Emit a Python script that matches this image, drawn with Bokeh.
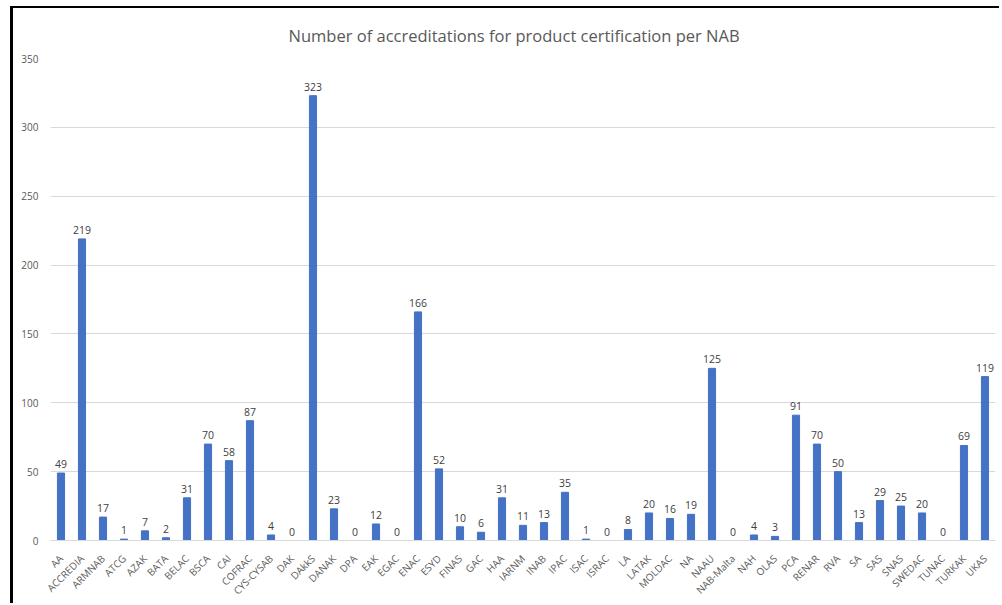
from bokeh.plotting import figure
from bokeh.models import ColumnDataSource, LabelSet, FactorRange, Range1d, FixedTicker
from bokeh.embed import file_html
from bokeh.resources import INLINE
from bokeh.core.properties import value
import math

nabs = ["AA", "ACCREDIA", "ARMNAB", "ATCG", "AZAK", "BATA", "BELAC", "BSCA", "CAI", "COFRAC",
        "CYS-CYSAB", "DAK", "DAkkS", "DANAK", "DPA", "EAK", "EGAC", "ENAC", "ESYD", "FINAS",
        "GAC", "HAA", "IARNM", "INAB", "IPAC", "ISAC", "ISRAC", "LA", "LATAK", "MOLDAC",
        "NA", "NAAU", "NAB-Malta", "NAH", "OLAS", "PCA", "RENAR", "RVA", "SA", "SAS",
        "SNAS", "SWEDAC", "TUNAC", "TURKAK", "UKAS"]
counts = [49, 219, 17, 1, 7, 2, 31, 70, 58, 87,
          4, 0, 323, 23, 0, 12, 0, 166, 52, 10,
          6, 31, 11, 13, 35, 1, 0, 8, 20, 16,
          19, 125, 0, 4, 3, 91, 70, 50, 13, 29,
          25, 20, 0, 69, 119]
y_ticks = [0, 50, 100, 150, 200, 250, 300, 350]

FONT = "Open Sans"
GREY = "#595959"

src = ColumnDataSource(dict(nab=nabs, n=counts, lbl=[str(c) for c in counts]))

p = figure(x_range=FactorRange(*nabs, range_padding=0), y_range=Range1d(0, 350),
           width=989, height=597, output_backend="svg", toolbar_location=None,
           title="Number of accreditations for product certification per NAB",
           min_border_left=37, min_border_right=7, min_border_top=50, min_border_bottom=62)

p.vbar(x="nab", top="n", width=0.34, color="#4472C4", source=src)

labels = LabelSet(x="nab", y="n", text="lbl", source=src, text_align="center",
                  text_baseline="bottom", y_offset=5, text_font_size="10.5px",
                  text_color="#404040", text_font=value(FONT))
p.add_layout(labels)

p.title.text_font = FONT
p.title.text_font_size = "16.5px"
p.title.text_font_style = "normal"
p.title.text_color = GREY
p.title.align = "left"
p.title.offset = 238
p.title.standoff = 20
p.title.vertical_align = "top"

p.yaxis.ticker = FixedTicker(ticks=y_ticks)
p.yaxis.axis_line_color = None
p.yaxis.major_tick_line_color = None
p.yaxis.minor_tick_line_color = None
p.yaxis.major_label_text_font = FONT
p.yaxis.major_label_text_font_size = "10px"
p.yaxis.major_label_text_color = GREY
p.yaxis.major_label_standoff = 6

p.xaxis.axis_line_color = "#D9D9D9"
p.xaxis.major_tick_line_color = None
p.xaxis.minor_tick_line_color = None
p.xaxis.major_label_orientation = math.pi / 4
p.xaxis.major_label_text_font = FONT
p.xaxis.major_label_text_font_size = "10px"
p.xaxis.major_label_text_color = GREY
p.xaxis.major_label_standoff = 10

p.xgrid.grid_line_color = None
p.ygrid.grid_line_color = "#D9D9D9"
p.outline_line_color = None
p.background_fill_color = "white"
p.border_fill_color = "white"
p.styles = {"margin-left": "10px", "margin-top": "6px",
            "border-left": "3px solid #000000", "border-top": "2px solid #000000"}

open("out.html", "w").write(file_html(p, INLINE))
